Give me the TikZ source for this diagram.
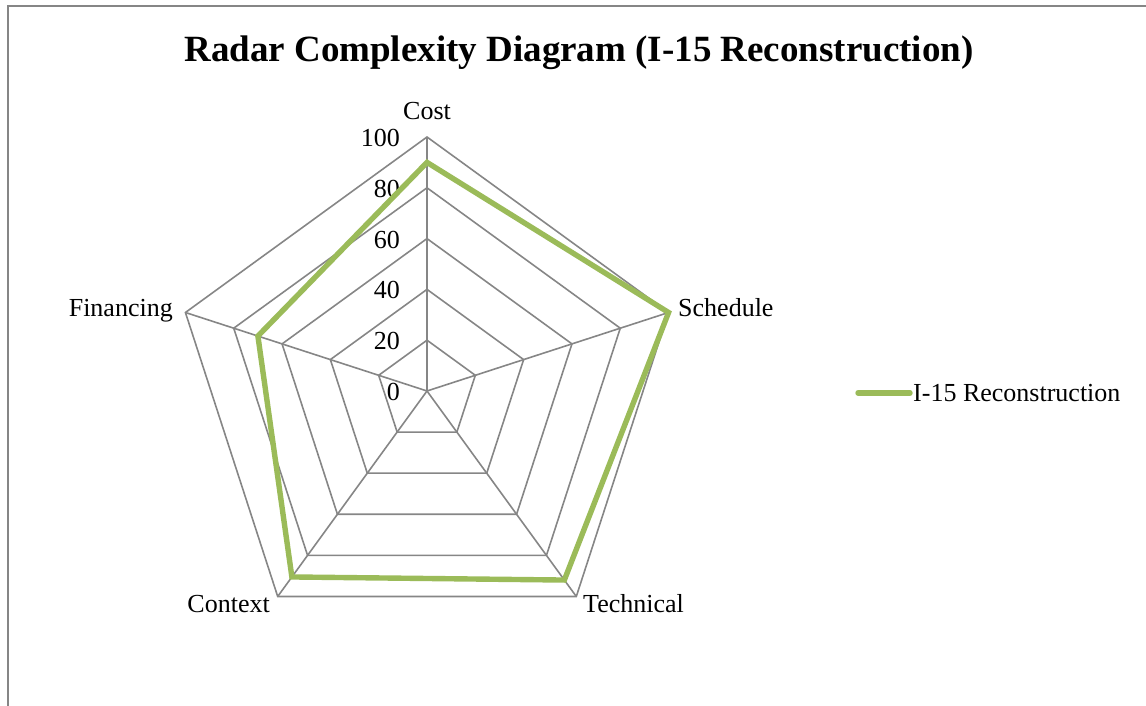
\documentclass[tikz,border=0pt]{standalone}
\usepackage{fontspec}
\setmainfont{Liberation Serif}
\definecolor{gridgray}{RGB}{134,134,134}
\definecolor{seriesgreen}{RGB}{155,187,89}
\begin{document}
\begin{tikzpicture}[x=1pt,y=1pt,
  frameline/.style={draw=gridgray, line width=1.8pt},
  gridline/.style={draw=gridgray, line width=1.6pt},
  seriesline/.style={draw=seriesgreen, line width=5.4pt, line join=miter},
  catlabel/.style={inner sep=0pt, font=\fontsize{26}{30}\selectfont},
  ticklabel/.style={inner sep=0pt, anchor=base east, font=\fontsize{26}{30}\selectfont},
  titlelabel/.style={inner sep=0pt, anchor=base, font=\fontsize{37}{42}\selectfont\bfseries}]
\useasboundingbox (0,0) rectangle (1146,706);

% chart frame (top and left edges)
\draw[frameline] (8,0) -- (8,700) -- (1146,700);

% title
\node[titlelabel] (title) at (579,644.3) {Radar Complexity Diagram (I-15 Reconstruction)};

\begin{scope}[shift={(427,315)}]
  \def\R{254}
  % concentric pentagon rings (0..100 by 20)
  \foreach \k in {1,...,5} {
    \pgfmathsetmacro{\rr}{\k*\R/5}
    \draw[gridline] (90:\rr) -- (18:\rr) -- (-54:\rr) -- (-126:\rr) -- (162:\rr) -- cycle;
  }
  % spokes
  \coordinate (o) at (0,0);
  \coordinate (vcost) at (90:\R);
  \coordinate (vsched) at (18:\R);
  \coordinate (vtech) at (-54:\R);
  \coordinate (vctx) at (-126:\R);
  \coordinate (vfin) at (162:\R);
  \foreach \v in {vcost,vsched,vtech,vctx,vfin}
    \draw[gridline] (o) -- (\v);

  % scale labels
  \foreach \val [count=\i from 0] in {0,20,40,60,80,100}
    \node[ticklabel] (tick\i) at (-27,{\i*\R/5-9.5}) {\val};

  % category labels
  \node[catlabel, anchor=base] (lcost) at (0,271.7) {Cost};
  \node[catlabel, anchor=base west] (lsched) at (251,74.3) {Schedule};
  \node[catlabel, anchor=base west] (ltech) at (156,-221.7) {Technical};
  \node[catlabel, anchor=base east] (lctx) at (-157,-221.7) {Context};
  \node[catlabel, anchor=base east] (lfin) at (-254,74.3) {Financing};

  % data series
  \draw[seriesline] (90:{0.90*\R}) -- (18:{1.00*\R}) -- (-54:{0.92*\R})
    -- (-126:{0.905*\R}) -- (162:{0.70*\R}) -- cycle;
\end{scope}

% legend
\coordinate (keya) at (858,313);
\coordinate (keyb) at (910,313);
\draw[seriesline, line cap=round] (keya) -- (keyb);
\node[catlabel, anchor=base west] (legtext) at (913,304.3) {I-15 Reconstruction};
\end{tikzpicture}
\end{document}
